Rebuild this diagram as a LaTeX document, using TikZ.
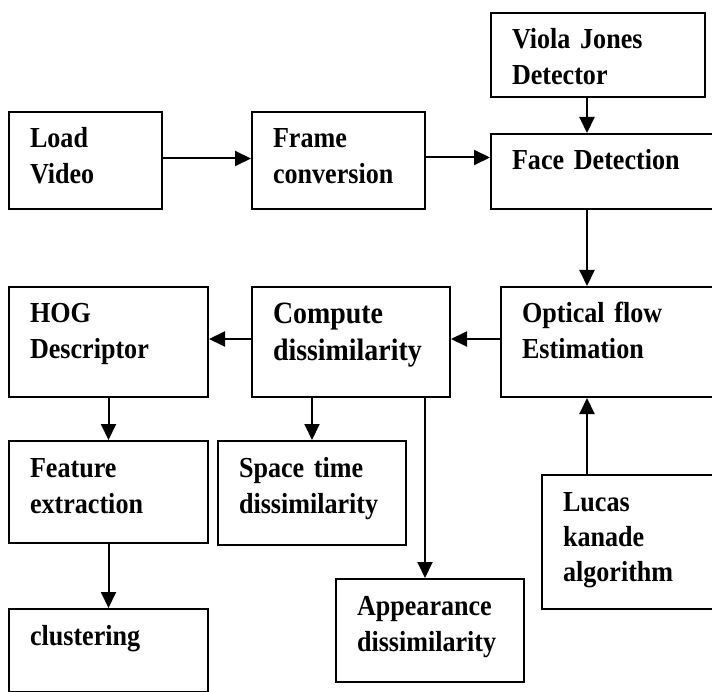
\documentclass[tikz,border=0pt]{standalone}
\usepackage{fontspec}
\setmainfont{Liberation Serif}[FakeStretch=0.9]
\usetikzlibrary{arrows.meta}
\tikzset{
  box/.style 2 args={draw, line width=2pt, anchor=north west, align=left,
    inner xsep=21pt, inner ysep=0pt, text height=36pt,
    text width=#1, text depth=#2,
    font=\bfseries\fontsize{29}{36}\selectfont}
}
\begin{document}
\begin{tikzpicture}[x=1pt,y=-1pt,>={Triangle[length=16pt,width=15pt]}]
  \clip (0,0) rectangle (712,692);
  \draw
    (8,111) node[box={111pt}{61pt}] (load){Load\\Video}
    (251,111) node[box={131pt}{61pt}] (frame){Frame\\conversion}
    (490,12) node[box={172pt}{48pt}] (viola){Viola Jones\\Detector}
    (490,133) node[box={198pt}{39pt}] (face){Face Detection}
    (8,286) node[box={157pt}{74pt}] (hog){HOG\\Descriptor}
    (251,286) node[box={156pt}{73pt}, text height=37pt,
      font=\bfseries\fontsize{31}{37}\selectfont] (compute){Compute\\dissimilarity}
    (500,286) node[box={198pt}{74pt}] (optical){Optical flow\\Estimation}
    (8,440) node[box={157pt}{66pt}] (feature){Feature\\extraction}
    (217,440) node[box={146pt}{68pt}] (space){Space time\\dissimilarity}
    (8,608) node[box={157pt}{47pt}] (clustering){clustering}
    (335,578) node[box={146pt}{67pt}] (appearance){Appearance\\dissimilarity}
    (541,474) node[box={158pt}{98pt}, font=\bfseries\fontsize{29}{35}\selectfont] (lucas){Lucas\\kanade\\algorithm};
  \coordinate (axis) at (587,0);
  \begin{scope}[->, line width=2pt]
    \draw ([yshift=2pt]load.east) to ([yshift=2pt]load.east -| frame.west);
    \draw ([yshift=3pt]frame.east) to ([yshift=3pt]frame.east -| face.west);
    \draw (viola.south -| axis) to (face.north -| axis);
    \draw (face.south -| axis) to (optical.north -| axis);
    \draw (lucas.north -| axis) to (optical.south -| axis);
    \draw ([yshift=3pt]optical.west) to ([yshift=3pt]optical.west -| compute.east);
    \draw ([yshift=3pt]compute.west) to ([yshift=3pt]compute.west -| hog.east);
    \draw (hog) to (feature);
    \draw (feature) to (clustering);
    \draw (compute.south -| space.north) to (space.north);
    \draw ([xshift=-5pt]compute.south -| appearance.north) to ([xshift=-5pt]appearance.north);
  \end{scope}
\end{tikzpicture}
\end{document}
